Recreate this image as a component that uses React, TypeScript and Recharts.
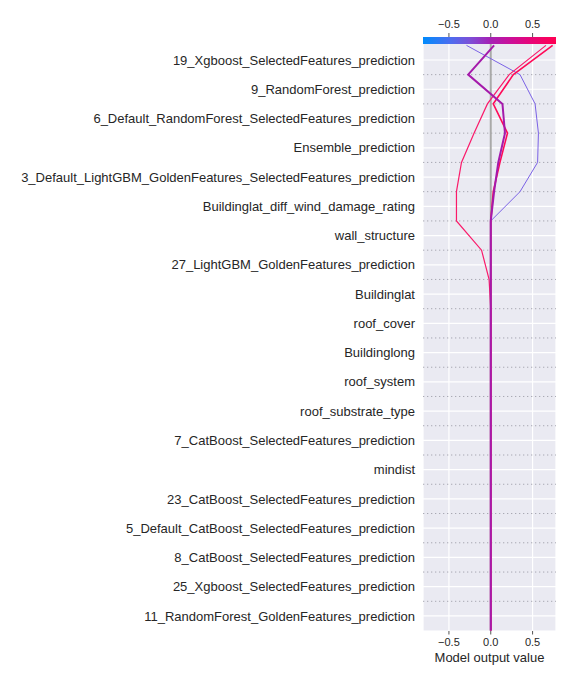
import { LineChart, Line, XAxis, YAxis, CartesianGrid, ReferenceLine } from 'recharts'

// features, top to bottom
const features = [
  '19_Xgboost_SelectedFeatures_prediction',
  '9_RandomForest_prediction',
  '6_Default_RandomForest_SelectedFeatures_prediction',
  'Ensemble_prediction',
  '3_Default_LightGBM_GoldenFeatures_SelectedFeatures_prediction',
  'Buildinglat_diff_wind_damage_rating',
  'wall_structure',
  '27_LightGBM_GoldenFeatures_prediction',
  'Buildinglat',
  'roof_cover',
  'Buildinglong',
  'roof_system',
  'roof_substrate_type',
  '7_CatBoost_SelectedFeatures_prediction',
  'mindist',
  '23_CatBoost_SelectedFeatures_prediction',
  '5_Default_CatBoost_SelectedFeatures_prediction',
  '8_CatBoost_SelectedFeatures_prediction',
  '25_Xgboost_SelectedFeatures_prediction',
  '11_RandomForest_GoldenFeatures_prediction',
]
const featureTicks = [0, 1, 2, 3, 4, 5, 6, 7, 8, 9, 10, 11, 12, 13, 14, 15, 16, 17, 18, 19]

// boundaries between features (top = model output, bottom = base value)
const levels = [-0.5, 0.5, 1.5, 2.5, 3.5, 4.5, 5.5, 6.5, 7.5, 8.5, 9.5, 10.5, 11.5, 12.5, 13.5, 14.5, 15.5, 16.5, 17.5, 18.5, 19.5]

const blueVals = [-0.29, 0.35, 0.53, 0.57, 0.56, 0.35, 0, 0, 0, 0, 0, 0, 0, 0, 0, 0, 0, 0, 0, 0, 0]
const purpleVals = [0.04, -0.27, 0.14, 0.17, 0.09, 0.04, 0, 0, 0, 0, 0, 0, 0, 0, 0, 0, 0, 0, 0, 0, 0]
const pinkAVals = [0.66, 0.22, -0.04, -0.2, -0.35, -0.41, -0.41, -0.11, -0.02, 0, 0, 0, 0, 0, 0, 0, 0, 0, 0, 0, 0]
const pinkBVals = [0.74, 0.27, 0.03, 0.2, 0.11, 0.03, 0, 0, 0, 0, 0, 0, 0, 0, 0, 0, 0, 0, 0, 0, 0]

const xTicks = [-0.5, 0, 0.5]

const data = levels.map((pos, i) => ({
  pos,
  blue: blueVals[i],
  purple: purpleVals[i],
  pinkA: pinkAVals[i],
  pinkB: pinkBVals[i],
}))

const dotted = levels.slice(1, 20)

function fmt(v: number) {
  return v.toFixed(1).replace('-', '\u2212')
}

const tickStyle = { fontSize: 11, fill: '#262626' }

export default function App() {
  return (
    <div
      style={{
        position: 'absolute',
        left: 0,
        top: 0,
        width: 576,
        height: 684,
        fontFamily: '"Liberation Sans", Arial, sans-serif',
      }}
    >
      <LineChart
        width={576}
        height={684}
        data={data}
        layout="vertical"
        margin={{ top: 0, right: 20, bottom: 22, left: 0 }}
      >
        <CartesianGrid fill="#eaeaf2" stroke="#ffffff" strokeWidth={1.2} />
        <XAxis
          xAxisId="top"
          orientation="top"
          type="number"
          domain={[-0.81, 0.78]}
          allowDataOverflow
          ticks={xTicks}
          tickFormatter={fmt}
          height={37}
          tickSize={4}
          tickMargin={5}
          axisLine={false}
          tickLine={{ stroke: '#555' }}
          tick={tickStyle}
        />
        <XAxis
          type="number"
          domain={[-0.81, 0.78]}
          allowDataOverflow
          ticks={xTicks}
          tickFormatter={fmt}
          height={31}
          tickSize={3.5}
          tickMargin={4}
          axisLine={false}
          tickLine={{ stroke: '#555' }}
          tick={tickStyle}
          label={{ value: 'Model output value', position: 'insideBottom', offset: 0, fontSize: 13, fill: '#262626' }}
        />
        <YAxis
          type="number"
          dataKey="pos"
          domain={[-0.786, 19.515]}
          allowDataOverflow
          ticks={featureTicks}
          interval={0}
          tickFormatter={(i: number) => features[i]}
          width={423}
          tickSize={0}
          tickMargin={8}
          axisLine={false}
          tickLine={false}
          tick={{ fontSize: 13, fill: '#262626' }}
        />
        {dotted.map((y) => (
          <ReferenceLine key={y} y={y} stroke="#a8a8b2" strokeWidth={1} strokeDasharray="1.3 2.7" />
        ))}
        <ReferenceLine x={0} stroke="#a9a9a9" strokeWidth={2} />
        <Line dataKey="blue" stroke="#7b62e6" strokeWidth={1} dot={false} isAnimationActive={false} />
        <Line dataKey="pinkA" stroke="#fa1a6a" strokeWidth={1.2} dot={false} isAnimationActive={false} />
        <Line dataKey="pinkB" stroke="#ff0a58" strokeWidth={1.6} dot={false} isAnimationActive={false} />
        <Line dataKey="purple" stroke="#a51aab" strokeWidth={2} dot={false} isAnimationActive={false} />
      </LineChart>
      <div
        style={{
          position: 'absolute',
          left: 423,
          top: 37,
          width: 133,
          height: 7,
          background:
            'linear-gradient(to right, #008bfc 0%, #4a6ef0 20%, #7b50d8 35%, #a422b6 50%, #c9109a 65%, #e6057a 80%, #ff0052 100%)',
        }}
      />
    </div>
  )
}
